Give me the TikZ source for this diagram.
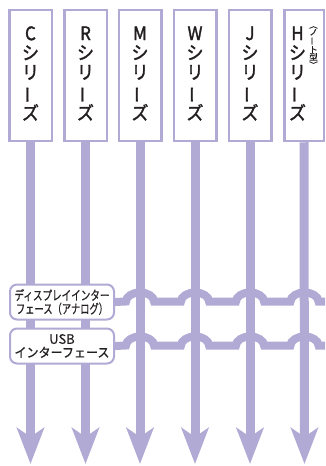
\documentclass[tikz,border=0pt]{standalone}
\usepackage{fontspec}
\usetikzlibrary{arrows.meta}
\newfontfamily\jpn[RawFeature=+palt]{Noto Sans CJK JP}
\newfontfamily\jpncol[FakeBold=1.6,FakeStretch=0.92]{Noto Sans CJK JP}
\newfontfamily\jpnlab[FakeBold=0.6]{Noto Sans CJK JP}
\definecolor{lav}{RGB}{176,170,213}
\definecolor{ink}{RGB}{35,31,32}
\newcommand\vbar{\rotatebox[origin=c]{90}{ー}}
\newcommand\fitw[2]{\resizebox{#1}{\height}{#2}}
\begin{document}
\begin{tikzpicture}[x=1pt,y=-1pt,
  series/.style={draw=lav, line width=2.5pt, fill=white, minimum width=42.5pt, minimum height=131pt, inner sep=0pt},
  coltext/.style={align=center, inner sep=0pt, text=ink, font=\jpncol\fontsize{18.5}{19.5}\selectfont},
  smalltext/.style={align=center, inner sep=0pt, text=ink, font=\jpnlab\fontsize{8.5}{7.4}\selectfont},
  iface/.style={draw=lav, line width=2pt, rounded corners=7pt, fill=white, minimum width=104pt, minimum height=35pt, inner sep=0pt, align=center, text=ink, font=\jpnlab\fontsize{13}{13.5}\selectfont},
  stem/.style={draw=lav, line width=9pt, -{Stealth[length=36pt,width=27pt,inset=9pt]}},
  bus/.style={draw=lav, line width=8pt}
]
\useasboundingbox (0,0) rectangle (325,466);
% series boxes
\node[series] (b1) at (30.5,75.5) {};
\node[series] (b2) at (85.5,75.5) {};
\node[series] (b3) at (140,75.5) {};
\node[series] (b4) at (195,75.5) {};
\node[series] (b5) at (250,75.5) {};
\node[series, minimum width=39.5pt] (b6) at (304,75.5) {};
\node[coltext] (t1) at (30.5,73.5) {C\\シ\\リ\\\vbar\\ズ};
\node[coltext] (t2) at (85.5,73.5) {R\\シ\\リ\\\vbar\\ズ};
\node[coltext] (t3) at (140,73.5) {M\\シ\\リ\\\vbar\\ズ};
\node[coltext] (t4) at (195,73.5) {W\\シ\\リ\\\vbar\\ズ};
\node[coltext] (t5) at (250,73.5) {J\\シ\\リ\\\vbar\\ズ};
\node[coltext] (t6) at (297.5,73.5) {H\\シ\\リ\\\vbar\\ズ};
\node[smalltext] (t6s) at (313.5,47.5) {︵\\ノ\\\vbar\\ト\\型\\︶};
% arrow ends
\coordinate (e1) at (30.5,464);
\coordinate (e2) at (85.5,464);
\coordinate (e3) at (140,464);
\coordinate (e4) at (195,464);
\coordinate (e5) at (250,464);
\coordinate (e6) at (304.5,464);
\draw[stem] (b1.south) -- (e1);
\draw[stem] (b2.south) -- (e2);
\draw[stem] (b3.south) -- (e3);
\draw[stem] (b4.south) -- (e4);
\draw[stem] (b5.south) -- (e5);
\draw[stem] (b6.south) -- (e6);
% interface labels
\node[iface] (disp) at (62,302) {\fitw{95pt}{ディスプレイインター}\\\fitw{92pt}{フェース（アナログ）}};
\node[iface] (usb) at (62,346) {USB\\\fitw{95pt}{インターフェース}};
\coordinate (r1) at (325,301.5);
\coordinate (r2) at (325,345.5);
\draw[bus] (disp.east) \foreach \x in {140,195,250,304.5} { -- (\x-14,301.5) .. controls (\x-14,296.5) and (\x-7.7,292.5) .. (\x,292.5) .. controls (\x+7.7,292.5) and (\x+14,296.5) .. (\x+14,301.5) } -- (r1);
\draw[bus] (usb.east) \foreach \x in {140,195,250,304.5} { -- (\x-14,345.5) .. controls (\x-14,340.5) and (\x-7.7,336.5) .. (\x,336.5) .. controls (\x+7.7,336.5) and (\x+14,340.5) .. (\x+14,345.5) } -- (r2);
\end{tikzpicture}
\end{document}
